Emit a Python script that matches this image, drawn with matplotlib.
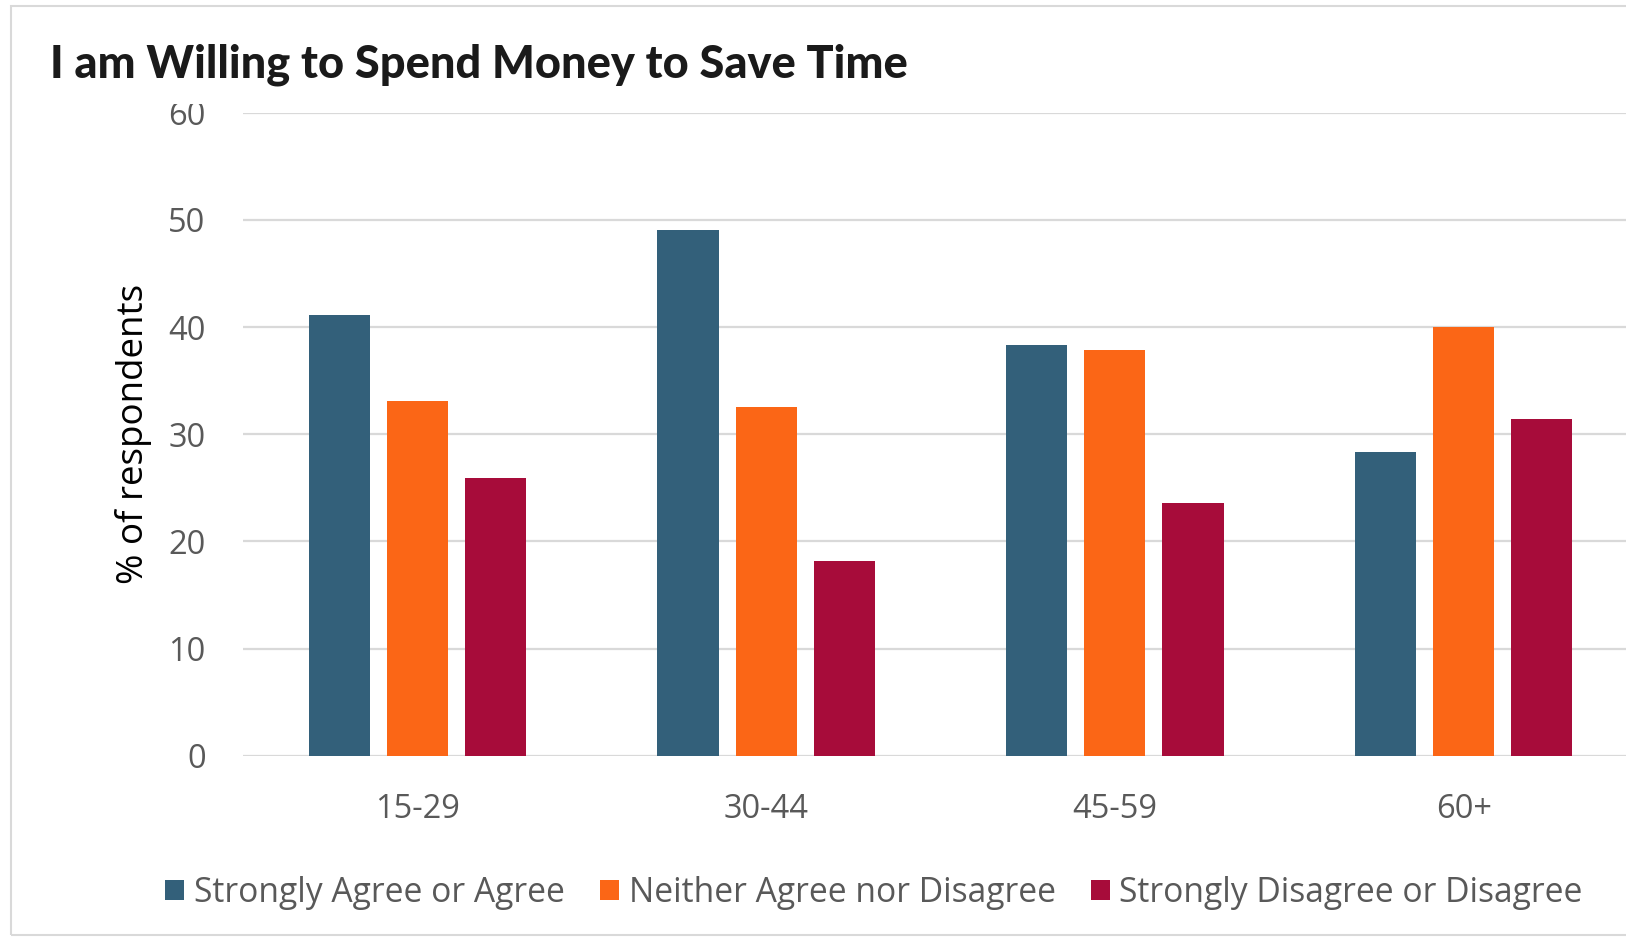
import matplotlib
matplotlib.use("Agg")
import matplotlib.pyplot as plt
from matplotlib.patches import Rectangle, Patch
import numpy as np

# Survey data: share of respondents by age group
age_groups = ["15-29", "30-44", "45-59", "60+"]
agree = [41.1, 49.1, 38.3, 28.3]
neither = [33.1, 32.5, 37.9, 40.0]
disagree = [25.9, 18.2, 23.6, 31.4]
series_names = ["Strongly Agree or Agree", "Neither Agree nor Disagree",
                "Strongly Disagree or Disagree"]
y_ticks = [0, 10, 20, 30, 40, 50, 60]

colors = ["#33607A", "#FB6616", "#A70C3A"]
W, H = 1626, 947
fig = plt.figure(figsize=(W / 100, H / 100), dpi=100)
fig.patch.set_facecolor("white")

# light frame around the chart area
fig.add_artist(Rectangle((11 / W, (H - 935) / H), 2.0, (935 - 6) / H,
                         transform=fig.transFigure, fill=False,
                         edgecolor="#d9d9d9", linewidth=1.5))

left_px, right_px = 243, 1638
y0_px, y60_px = 755.7, 112.7
ax = fig.add_axes([left_px / W, (H - y0_px) / H,
                   (right_px - left_px) / W, (y0_px - y60_px) / H])

x = np.arange(len(age_groups))
width = 0.175
step = 0.224
for k, (vals, name, c) in enumerate(zip([agree, neither, disagree],
                                         series_names, colors)):
    ax.bar(x + (k - 1) * step, vals, width=width, color=c, label=name,
           zorder=3)

ax.set_xlim(-0.5, 3.5)
ax.set_ylim(0, 60)
ax.set_yticks(y_ticks)
ax.set_xticks(x)
ax.set_xticklabels(age_groups)
ax.yaxis.grid(True, color="#d9d9d9", linewidth=1.6, zorder=0)
ax.set_axisbelow(True)
for s in ax.spines.values():
    s.set_visible(False)
ax.tick_params(axis="both", length=0, colors="#595959", labelsize=23.5)
ax.tick_params(axis="y", pad=27)
ax.tick_params(axis="x", pad=27)
for lab in ax.get_xticklabels() + ax.get_yticklabels():
    lab.set_fontfamily("Open Sans")

# the title band overlaps the upper part of the top tick label
fig.add_artist(Rectangle((140 / W, (H - 104) / H), 90 / W, 18 / H,
                         transform=fig.transFigure, facecolor="white",
                         edgecolor="none", zorder=2))

title = fig.text(50 / W, (H - 77) / H,
                 "I am Willing to Spend Money to Save Time",
                 fontfamily="Lato", fontweight=900, fontsize=30,
                 color="#1a1a1a", ha="left", va="baseline", zorder=4)
renderer = fig.canvas.get_renderer()
tw = title.get_window_extent(renderer).width
title.set_fontsize(30 * 854 / tw)

fig.text(133 / W, (H - 434) / H, "% of respondents", rotation=90,
         fontfamily="Open Sans", fontsize=26.5, color="black",
         ha="center", va="center")

handles = [Patch(facecolor=c) for c in colors]
leg = fig.legend(handles, series_names, loc="center",
                 bbox_to_anchor=(874 / W, (H - 893) / H), ncol=3,
                 frameon=False, prop={"family": "Open Sans", "size": 24.2},
                 handlelength=0.57, handleheight=0.57, handletextpad=0.28,
                 columnspacing=1.05, borderpad=0)
for t in leg.get_texts():
    t.set_color("#595959")

fig.savefig("out.png", dpi=100)
